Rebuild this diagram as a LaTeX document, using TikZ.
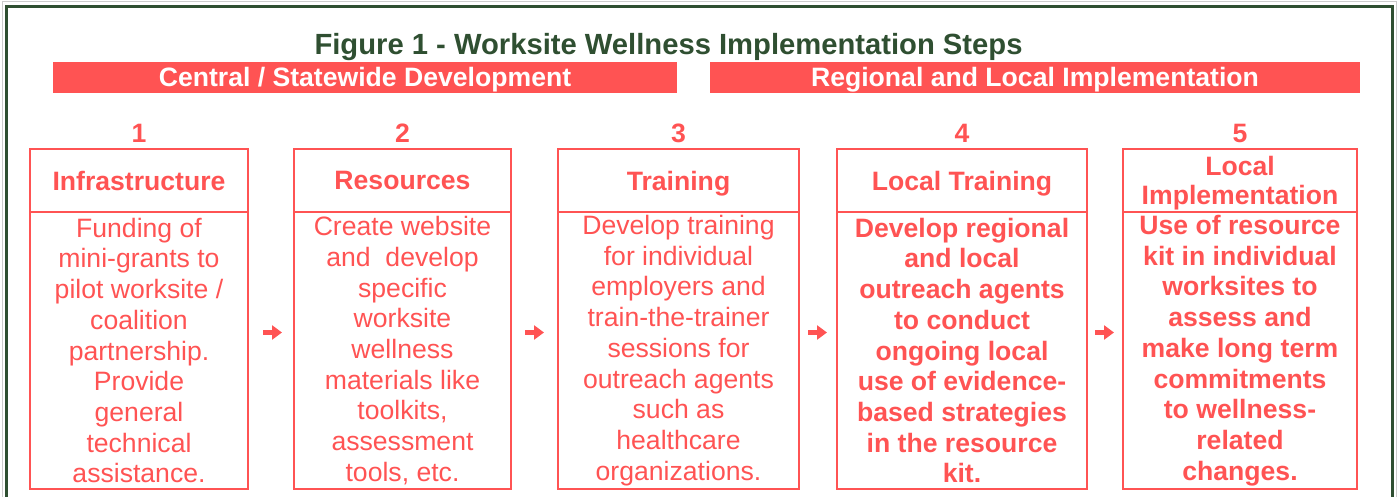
\documentclass[tikz,border=0pt]{standalone}
\usepackage{fontspec}
\setmainfont{Liberation Sans}
\usetikzlibrary{arrows.meta,positioning}

\definecolor{salmon}{HTML}{FF5353}
\definecolor{pine}{HTML}{2F4F31}

\begin{document}
\begin{tikzpicture}[x=0.5pt,y=-0.5pt,
		every node/.style={font=\fontsize{13.3}{15.35}\selectfont,outer sep=0pt},
		banner/.style={fill=salmon,text=white,inner sep=0pt,minimum height=15.5pt,
			text height=12.5pt,text depth=3pt,font=\fontsize{13.3}{15.35}\selectfont\bfseries},
		num/.style={text=salmon,anchor=base,font=\fontsize{13.3}{15.35}\selectfont\bfseries},
		head/.style={draw=salmon,line width=1pt,text=salmon,inner sep=0pt,anchor=north,
			minimum height=31.5pt,text depth=0pt,align=center,
			font=\fontsize{13.3}{14.5}\selectfont\bfseries},
		body/.style={draw=salmon,line width=1pt,text=salmon,inner sep=0pt,
			minimum height=138.5pt,align=center},
		flow/.style={salmon,line width=2.1pt,-{Triangle[length=5pt,width=7pt]}}]
		\useasboundingbox (0,0) rectangle (1398,497);
		\clip (0,0) rectangle (1398,497);

		% Outer frame, open at the bottom
		\draw[gray!40,line width=0.5pt] (2,520) -- (2,2) -- (1396,2) -- (1396,520);
		\draw[pine,line width=1.5pt] (6,520) -- (6,6.5) -- (1392,6.5) -- (1392,520);

		% Title and the two phase banners
		\node[text=pine,anchor=base,font=\fontsize{14.6}{16}\selectfont\bfseries] (title)
			at (668.5,55) {Figure 1 - Worksite Wellness Implementation Steps};
		\node[banner,minimum width=312pt] (central) at (365,77.5)
			{Central / Statewide Development};
		\node[banner,minimum width=325pt] (regional) at (1035,77.5)
			{Regional and Local Implementation};

		% Step numbers
		\foreach \i/\x in {1/139,2/402.5,3/678.5,4/962,5/1240} {
			\node[num] (n\i) at (\x,143) {\i};
		}

		% Step boxes: heading cell on top of a text cell
		\node[head,minimum width=109pt] (h1) at (139,149) {Infrastructure};
		\node[body,minimum width=109pt,below=0pt of h1] (b1)
			{Funding of\\ mini-grants to\\ pilot worksite /\\ coalition\\ partnership.\\
			 Provide\\ general\\ technical\\ assistance.};

		\node[head,minimum width=108.5pt] (h2) at (402.5,149) {Resources};
		\node[body,minimum width=108.5pt,below=0pt of h2] (b2)
			{Create website\\ and~ develop\\ specific\\ worksite\\ wellness\\
			 materials like\\ toolkits,\\ assessment\\ tools, etc.};

		\node[head,minimum width=120.5pt] (h3) at (678.5,149) {Training};
		\node[body,minimum width=120.5pt,below=0pt of h3] (b3)
			{Develop training\\ for individual\\ employers and\\ train-the-trainer\\
			 sessions for\\ outreach agents\\ such as\\ healthcare\\ organizations.};

		\node[head,minimum width=125pt] (h4) at (962,149) {Local Training};
		\node[body,minimum width=125pt,below=0pt of h4,font=\fontsize{13.3}{15.35}\selectfont\bfseries] (b4)
			{Develop regional\\ and local\\ outreach agents\\ to conduct\\ ongoing local\\
			 use of evidence-\\ based strategies\\ in the resource\\ kit.};

		\node[head,minimum width=117pt] (h5) at (1240,149) {Local\\ Implementation};
		\node[body,minimum width=117pt,below=0pt of h5,font=\fontsize{13.3}{15.35}\selectfont\bfseries] (b5)
			{Use of resource\\ kit in individual\\ worksites to\\ assess and\\ make long term\\
			 commitments\\ to wellness-\\ related\\ changes.};

		% Arrows between the steps
		\foreach \a/\b/\s/\e in {1/2/7.5/6,2/3/7/7,3/4/4.5/5,4/5/4/4.5} {
			\draw[flow,shorten <=\s pt,shorten >=\e pt]
				([yshift=9pt]b\a.east) -- ([yshift=9pt]b\b.west);
		}
	\end{tikzpicture}
\end{document}
